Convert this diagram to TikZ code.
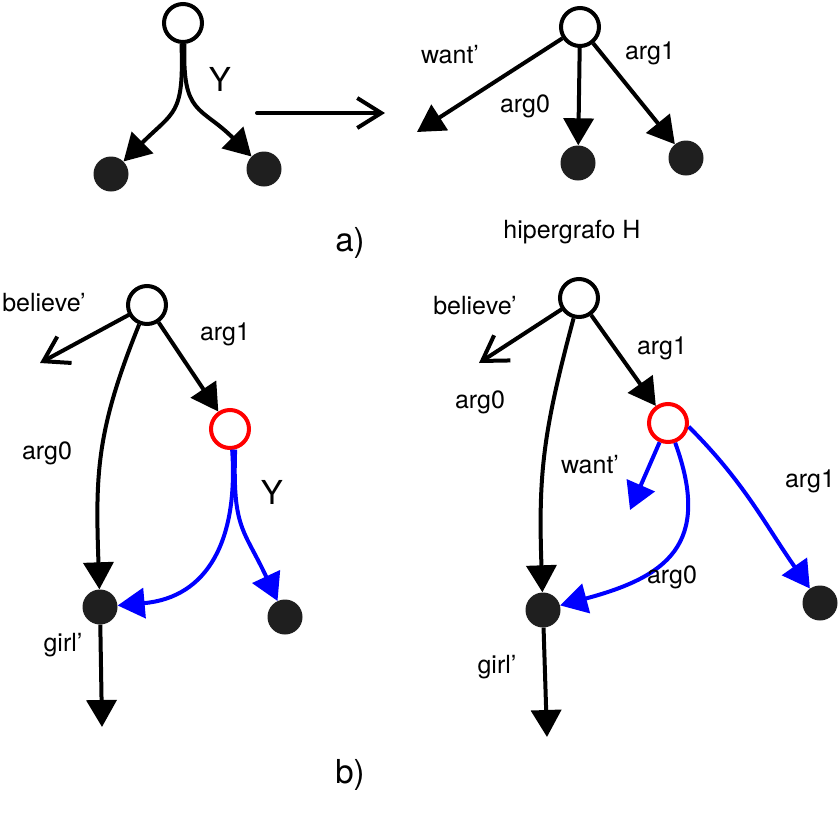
\documentclass[tikz,border=0pt]{standalone}
\usepackage{fontspec}
\setmainfont{TeX Gyre Heros}
\usetikzlibrary{arrows.meta}

\begin{document}
\begin{tikzpicture}[x=1pt,y=1pt,
  hollow/.style={circle, draw, line width=4pt, minimum size=38pt, inner sep=0pt},
  dot/.style={circle, fill=black!88, minimum size=35pt, inner sep=0pt},
  lbl/.style={inner sep=0pt, font=\fontsize{25}{30}\selectfont},
  big/.style={inner sep=0pt, font=\fontsize{33}{40}\selectfont},
  edge/.style={line width=4pt, -{Triangle[length=27pt,width=30pt]}},
  barb/.style={line width=4pt, line cap=round, -{Straight Barb[length=24pt,width=30pt]}}]
\useasboundingbox (0,0) rectangle (838,-825);
% a) the hyperedge Y and its rewriting
\node[hollow] (ya) at (183,-23) {};
\node[dot] (yl) at (111,-174) {};
\node[dot] (yr) at (264,-169) {};
\draw[edge] ([xshift=-1.5pt]ya.south) to[out=-88,in=45,looseness=1.4] (yl);
\draw[edge] ([xshift=1.5pt]ya.south) to[out=-92,in=135,looseness=1.4] (yr);
\node[big] (yy) at (220,-79) {Y};
\coordinate (fa) at (257,-113);
\coordinate (fb) at (385,-113);
\draw[barb] (fa) -- (fb);
% the hypergraph H
\node[hollow] (ha) at (580,-27) {};
\node[dot] (ha0) at (578,-163) {};
\node[dot] (ha1) at (686,-158) {};
\coordinate (hw) at (417,-132);
\draw[edge] (ha) -- (hw);
\draw[edge] (ha) -- (ha0);
\draw[edge] (ha) -- (ha1);
\node[lbl] (lhw) at (450,-55) {want'};
\node[lbl] (lh0) at (525,-106) {arg0};
\node[lbl] (lh1) at (650,-53) {arg1};
\node[lbl] (lhh) at (572,-232) {hipergrafo H};
\node[big] (la) at (350,-243) {a)};
% b) left graph, before the rewriting
\node[hollow] (bt) at (147,-305) {};
\node[hollow, draw=red] (br) at (230,-429) {};
\node[dot] (bg) at (100,-607) {};
\node[dot] (bd) at (285,-617) {};
\coordinate (bb) at (40,-363);
\coordinate (bgo) at (102,-727);
\draw[barb] (bt) -- (bb);
\draw[edge] (bt) -- (br);
\draw[edge] (bt) to[out=-112,in=92,looseness=1.1] (bg);
\draw[edge] (bg) -- (bgo);
\draw[edge, blue] ([xshift=-1.5pt]br.-80) to[out=-86,in=5,looseness=1.2] (bg);
\draw[edge, blue] ([xshift=1.5pt]br.-80) to[out=-92,in=115,looseness=1.3] (bd);
\node[lbl] (lbb) at (44,-303) {believe'};
\node[lbl] (lb1) at (225,-334) {arg1};
\node[lbl] (lb0) at (47,-453) {arg0};
\node[lbl] (lbg) at (63,-645) {girl'};
\node[big] (lby) at (272,-492) {Y};
\node[big] (lb) at (350,-775) {b)};
% b) right graph, after the rewriting
\node[hollow] (ct) at (579,-298) {};
\node[hollow, draw=red] (cr) at (668,-423) {};
\node[dot] (cg) at (543,-610) {};
\node[dot] (cd) at (820,-603) {};
\coordinate (cb) at (479,-363);
\coordinate (cgo) at (547,-737);
\coordinate (cw) at (630,-510);
\draw[barb] (ct) -- (cb);
\draw[edge] (ct) -- (cr);
\draw[edge] (ct) to[out=-105,in=92,looseness=1.1] (cg);
\draw[edge] (cg) -- (cgo);
\draw[edge, blue] (cr) -- (cw);
\draw[edge, blue] (cr) to[out=-70,in=15,looseness=1.4] (cg);
\draw[edge, blue] (cr.-10) to[out=-45,in=125] (cd);
\node[lbl] (lcb) at (475,-306) {believe'};
\node[lbl] (lc0) at (480,-402) {arg0};
\node[lbl] (lc1) at (662,-348) {arg1};
\node[lbl] (lcw) at (590,-465) {want'};
\node[lbl] (lcr0) at (672,-577) {arg0};
\node[lbl] (lcr1) at (810,-481) {arg1};
\node[lbl] (lcg) at (497,-667) {girl'};
\end{tikzpicture}
\end{document}
